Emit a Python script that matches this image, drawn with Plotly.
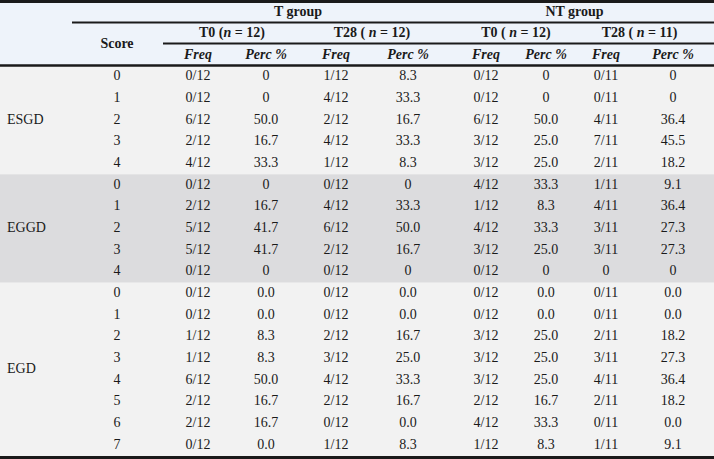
import plotly.graph_objects as go

####################################################
# table values, read row by row

groups = ["ESGD", "EGGD", "EGD"]
scores = [0, 1, 2, 3, 4,
          0, 1, 2, 3, 4,
          0, 1, 2, 3, 4, 5, 6, 7]
group_of_row = [0]*5 + [1]*5 + [2]*8

t0_freq = ["0/12", "0/12", "6/12", "2/12", "4/12",
           "0/12", "2/12", "5/12", "5/12", "0/12",
           "0/12", "0/12", "1/12", "1/12", "6/12", "2/12", "2/12", "0/12"]
t0_perc = ["0", "0", "50.0", "16.7", "33.3",
           "0", "16.7", "41.7", "41.7", "0",
           "0.0", "0.0", "8.3", "8.3", "50.0", "16.7", "16.7", "0.0"]
t28_freq = ["1/12", "4/12", "2/12", "4/12", "1/12",
            "0/12", "4/12", "6/12", "2/12", "0/12",
            "0/12", "0/12", "2/12", "3/12", "4/12", "2/12", "0/12", "1/12"]
t28_perc = ["8.3", "33.3", "16.7", "33.3", "8.3",
            "0", "33.3", "50.0", "16.7", "0",
            "0.0", "0.0", "16.7", "25.0", "33.3", "16.7", "0.0", "8.3"]
nt0_freq = ["0/12", "0/12", "6/12", "3/12", "3/12",
            "4/12", "1/12", "4/12", "3/12", "0/12",
            "0/12", "0/12", "3/12", "3/12", "3/12", "2/12", "4/12", "1/12"]
nt0_perc = ["0", "0", "50.0", "25.0", "25.0",
            "33.3", "8.3", "33.3", "25.0", "0",
            "0.0", "0.0", "25.0", "25.0", "25.0", "16.7", "33.3", "8.3"]
nt28_freq = ["0/11", "0/11", "4/11", "7/11", "2/11",
             "1/11", "4/11", "3/11", "3/11", "0",
             "0/11", "0/11", "2/11", "3/11", "4/11", "2/11", "0/11", "1/11"]
nt28_perc = ["0", "0", "36.4", "45.5", "18.2",
             "9.1", "36.4", "27.3", "27.3", "0",
             "0.0", "0.0", "18.2", "27.3", "36.4", "18.2", "0.0", "9.1"]

group_heads = ["T group", "NT group"]
time_heads = ["T0 (<i>n</i> = 12)", "T28 ( <i>n</i> = 12)",
              "T0 ( <i>n</i> = 12)", "T28 ( <i>n</i> = 11)"]
sub_heads = ["Freq", "Perc %"] * 4

####################################################
# layout (pixel units, y grows downward)

W, H = 714, 459
HEAD_H = 66
ROW_H = (H - 3 - HEAD_H) / len(scores)
col_x = [198, 266, 336, 408, 486, 546, 606, 673]
score_x = 117
label_x = 7
FONT = "Liberation Serif, Times New Roman, serif"
SIZE = 14
INK = "#1a1a1a"

columns = [t0_freq, t0_perc, t28_freq, t28_perc,
           nt0_freq, nt0_perc, nt28_freq, nt28_perc]


def row_y(i):
    return HEAD_H + ROW_H*(i + 0.5)


xs, ys, txt = [], [], []
for i, s in enumerate(scores):
    xs.append(score_x)
    ys.append(row_y(i))
    txt.append(str(s))
    for cx, col in zip(col_x, columns):
        xs.append(cx)
        ys.append(row_y(i))
        txt.append(col[i])

# group labels sit in the middle of their block of rows
gx, gy = [], []
for g in range(len(groups)):
    rows = [i for i, r in enumerate(group_of_row) if r == g]
    gx.append(label_x)
    gy.append((row_y(rows[0]) + row_y(rows[-1])) / 2)

# header texts
hx, hy, ht = [], [], []
for k, name in enumerate(group_heads):
    hx.append((col_x[4*k] + col_x[4*k+3]) / 2 - 5)
    hy.append(12)
    ht.append("<b>" + name + "</b>")
for k, name in enumerate(time_heads):
    hx.append((col_x[2*k] + col_x[2*k+1]) / 2)
    hy.append(33)
    ht.append("<b>" + name + "</b>")
for k, name in enumerate(sub_heads):
    hx.append(col_x[k])
    hy.append(55)
    ht.append("<b><i>" + name + "</i></b>")
hx.append(score_x)
hy.append(44)
ht.append("<b>Score</b>")

fig = go.Figure()
fig.add_trace(go.Scatter(x=xs, y=ys, text=txt, mode="text",
                         textposition="middle center", hoverinfo="skip",
                         textfont=dict(family=FONT, size=SIZE, color=INK)))
fig.add_trace(go.Scatter(x=gx, y=gy, text=groups, mode="text",
                         textposition="middle right", hoverinfo="skip",
                         textfont=dict(family=FONT, size=SIZE, color=INK)))
fig.add_trace(go.Scatter(x=hx, y=hy, text=ht, mode="text",
                         textposition="middle center", hoverinfo="skip",
                         textfont=dict(family=FONT, size=SIZE, color=INK)))

# backgrounds
fig.add_shape(type="rect", x0=0, x1=W, y0=0, y1=HEAD_H,
              fillcolor="#eef3fa", line_width=0, layer="below")
bg = ["#f2f2f2", "#dcdcde", "#f2f2f2"]
start = 0
for g in range(len(groups)):
    n = group_of_row.count(g)
    y0 = HEAD_H + ROW_H*start
    y1 = HEAD_H + ROW_H*(start + n) if g < len(groups) - 1 else H
    fig.add_shape(type="rect", x0=0, x1=W, y0=y0, y1=y1,
                  fillcolor=bg[g], line_width=0, layer="below")
    start += n

# rules
fig.add_shape(type="line", x0=0, x1=W, y0=1.5, y1=1.5, line=dict(color=INK, width=3))
fig.add_shape(type="line", x0=72, x1=W, y0=22.5, y1=22.5, line=dict(color=INK, width=2))
fig.add_shape(type="line", x0=163, x1=W, y0=43.5, y1=43.5, line=dict(color=INK, width=2))
fig.add_shape(type="line", x0=0, x1=W, y0=65.5, y1=65.5, line=dict(color=INK, width=2.5))
fig.add_shape(type="line", x0=0, x1=W, y0=H-1.5, y1=H-1.5, line=dict(color=INK, width=3))

fig.update_layout(width=W, height=H, margin=dict(l=0, r=0, t=0, b=0),
                  showlegend=False, paper_bgcolor="white", plot_bgcolor="white",
                  xaxis=dict(range=[0, W], visible=False, fixedrange=True),
                  yaxis=dict(range=[H, 0], visible=False, fixedrange=True))

# page body has a default margin; drop it so the table fills the window
fig.write_html("out.html", config={"displayModeBar": False},
               post_script="document.body.style.margin = '0';")
